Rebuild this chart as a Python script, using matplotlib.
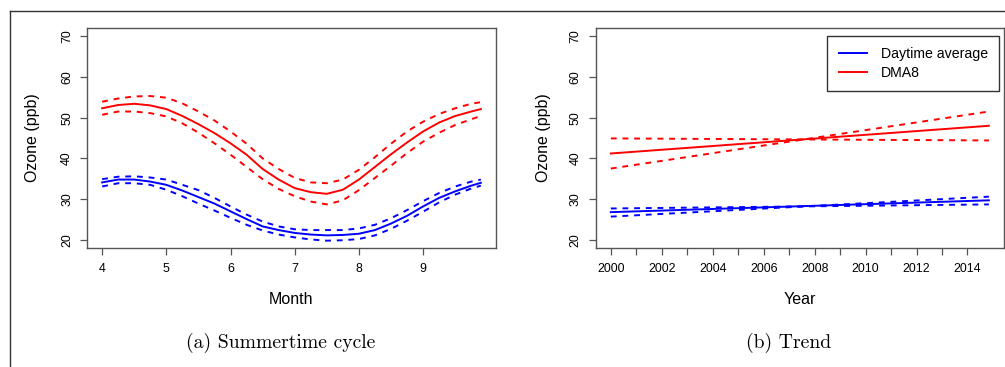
import matplotlib
matplotlib.use("Agg")
import matplotlib.pyplot as plt
from matplotlib.lines import Line2D

plt.rcParams['font.family'] = ['Liberation Sans', 'DejaVu Sans']

# (a) summertime cycle
months = [4.0, 4.25, 4.5, 4.75, 5.0, 5.25, 5.5, 5.75, 6.0, 6.25, 6.5, 6.75, 7.0,
          7.25, 7.5, 7.75, 8.0, 8.25, 8.5, 8.75, 9.0, 9.25, 9.5, 9.75, 9.9]

dma8_fit = [52.3, 53.1, 53.4, 53.0, 52.1, 50.4, 48.4, 46.2, 43.7, 40.9, 37.4, 34.8, 32.7,
            31.7, 31.3, 32.3, 34.8, 37.9, 41.0, 43.9, 46.6, 48.8, 50.4, 51.5, 52.1]
dma8_hi = [53.9, 54.7, 55.2, 55.3, 54.9, 53.5, 51.5, 49.3, 46.6, 43.6, 40.0, 37.4, 35.2,
           34.1, 33.9, 34.8, 37.2, 40.3, 43.6, 46.6, 49.0, 50.9, 52.3, 53.4, 53.8]
dma8_lo = [50.7, 51.5, 51.5, 51.1, 50.3, 48.6, 46.3, 43.7, 40.9, 37.9, 34.9, 32.5, 30.7,
           29.4, 28.7, 29.7, 32.2, 35.2, 38.2, 41.3, 44.1, 46.3, 48.2, 49.6, 50.4]

day_fit = [34.1, 34.8, 34.8, 34.3, 33.5, 32.1, 30.5, 28.9, 27.0, 25.1, 23.3, 22.4, 21.7,
           21.3, 21.1, 21.2, 21.5, 22.4, 24.0, 25.9, 28.2, 30.3, 31.9, 33.3, 34.0]
day_hi = [34.9, 35.5, 35.6, 35.3, 34.8, 33.5, 32.2, 30.3, 28.2, 26.2, 24.5, 23.3, 22.6,
          22.4, 22.4, 22.4, 22.8, 23.7, 25.3, 27.3, 29.5, 31.5, 33.1, 34.3, 34.8]
day_lo = [33.1, 33.9, 33.9, 33.5, 32.3, 30.7, 28.9, 27.2, 25.4, 23.7, 22.3, 21.3, 20.6,
          20.1, 19.8, 19.9, 20.2, 21.1, 22.7, 24.7, 26.9, 29.2, 31.1, 32.6, 33.3]

# (b) trend, start and end of each straight line
years = [2000, 2014.84]
dma8_trend = [41.2, 48.0]
dma8_trend_a = [37.5, 51.5]
dma8_trend_b = [44.9, 44.4]
day_trend = [26.8, 29.7]
day_trend_a = [25.7, 30.6]
day_trend_b = [27.7, 28.7]

BLUE = '#0000FF'
RED = '#FF0000'
EDGE = '#555555'
DASH = (3, 3)

fig = plt.figure(figsize=(10.05, 3.67), dpi=100)
ax1 = fig.add_axes([87 / 1005, 1 - 248 / 367, 409 / 1005, 220 / 367])
ax2 = fig.add_axes([595.7 / 1005, 1 - 248 / 367, 408.3 / 1005, 220 / 367])

# panel a
ax1.plot(months, day_fit, color=BLUE, lw=1.4)
ax1.plot(months, day_hi, color=BLUE, lw=1.4, dashes=DASH)
ax1.plot(months, day_lo, color=BLUE, lw=1.4, dashes=DASH)
ax1.plot(months, dma8_fit, color=RED, lw=1.4)
ax1.plot(months, dma8_hi, color=RED, lw=1.4, dashes=DASH)
ax1.plot(months, dma8_lo, color=RED, lw=1.4, dashes=DASH)
ax1.set_xlim(4 - 0.04 * 5.9, 9.9 + 0.04 * 5.9)
ax1.set_xticks([4, 5, 6, 7, 8, 9])

# panel b
ax2.plot(years, day_trend, color=BLUE, lw=1.4, label='Daytime average')
ax2.plot(years, day_trend_a, color=BLUE, lw=1.4, dashes=DASH)
ax2.plot(years, day_trend_b, color=BLUE, lw=1.4, dashes=DASH)
ax2.plot(years, dma8_trend, color=RED, lw=1.4, label='DMA8')
ax2.plot(years, dma8_trend_a, color=RED, lw=1.4, dashes=DASH)
ax2.plot(years, dma8_trend_b, color=RED, lw=1.4, dashes=DASH)
span = years[1] - years[0]
ax2.set_xlim(years[0] - 0.04 * span, years[1] + 0.04 * span)
ax2.set_xticks(range(2000, 2015))
ax2.set_xticklabels([str(y) if y % 2 == 0 else '' for y in range(2000, 2015)])

for ax in (ax1, ax2):
    ax.set_ylim(18, 72)
    ax.set_yticks([20, 30, 40, 50, 60, 70])
    for lab in ax.get_yticklabels():
        lab.set_rotation(90)
        lab.set_va('center')
    ax.tick_params(axis='both', length=5, width=0.9, color=EDGE, labelsize=8.9)
    ax.tick_params(axis='y', pad=5)
    ax.tick_params(axis='x', pad=6)
    for s in ax.spines.values():
        s.set_color(EDGE)
        s.set_linewidth(1.0)

# axis titles
fig.text(33 / 1005, 1 - 138 / 367, 'Ozone (ppb)', rotation=90, ha='center', va='center', fontsize=11.5)
fig.text(543 / 1005, 1 - 138 / 367, 'Ozone (ppb)', rotation=90, ha='center', va='center', fontsize=11.5)
fig.text(291.5 / 1005, 1 - 300 / 367, 'Month', ha='center', va='center', fontsize=11.5)
fig.text(799.8 / 1005, 1 - 300 / 367, 'Year', ha='center', va='center', fontsize=11.5)

# captions
fig.text(280.7 / 1005, 1 - 343 / 367, '(a) Summertime cycle', ha='center', va='center',
         fontsize=14.2, family='cmr10')
fig.text(788.7 / 1005, 1 - 343 / 367, '(b) Trend', ha='center', va='center',
         fontsize=14.2, family='cmr10')

leg = ax2.legend(loc='upper right', bbox_to_anchor=(999 / 1005, 1 - 36 / 367),
                 bbox_transform=fig.transFigure, fontsize=10.2, fancybox=False,
                 framealpha=1, edgecolor='#333333', borderaxespad=0, borderpad=0.8,
                 labelspacing=0.3, handlelength=2.0, handletextpad=0.95)
leg.get_frame().set_linewidth(1.0)

# outer frame of the figure
fig.add_artist(Line2D([9.5 / 1005, 1], [1 - 11 / 367, 1 - 11 / 367], color='#333333', lw=1.0))
fig.add_artist(Line2D([9.5 / 1005, 9.5 / 1005], [0, 1 - 11 / 367], color='#333333', lw=1.0))

fig.savefig('out.png', dpi=100)
